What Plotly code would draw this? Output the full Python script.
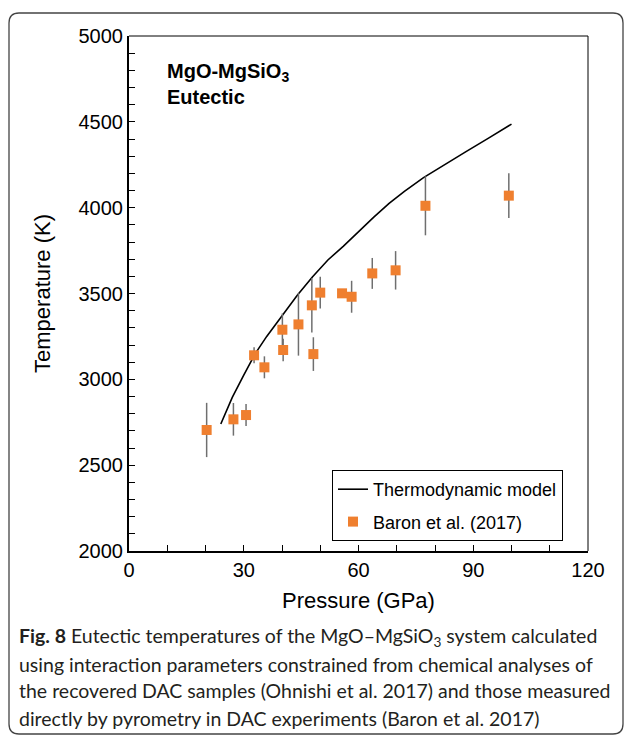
import plotly.graph_objects as go

# Eutectic temperatures measured by pyrometry (Baron et al. 2017)
baron_p = [20.3, 27.3, 30.6, 32.7, 35.4, 40.1, 40.3, 44.3, 47.8, 48.2, 50.0,
           55.7, 58.2, 63.6, 69.7, 77.5, 99.3]
baron_t = [2705, 2767, 2792, 3140, 3070, 3289, 3171, 3320, 3431, 3147, 3505,
           3501, 3481, 3617, 3635, 4011, 4070]
baron_err = [158, 95, 64, 47, 64, 95, 65, 182, 158, 98, 92,
             0, 93, 90, 112, 172, 130]

# Thermodynamic model curve
model_p = [24, 27, 30, 33, 36, 40, 44, 48, 52, 56, 60, 64, 68, 72, 77, 82, 88, 94, 100]
model_t = [2740, 2895, 3025, 3150, 3250, 3372, 3490, 3598, 3695, 3775, 3862,
           3945, 4025, 4095, 4175, 4245, 4325, 4405, 4487]

x_ticks = [0, 30, 60, 90, 120]
y_ticks = [2000, 2500, 3000, 3500, 4000, 4500, 5000]

caption_lines = [
    "<b>Fig. 8</b> Eutectic temperatures of the MgO–MgSiO<sub>3</sub> system calculated",
    "using interaction parameters constrained from chemical analyses of",
    "the recovered DAC samples (Ohnishi et al. 2017) and those measured",
    "directly by pyrometry in DAC experiments (Baron et al. 2017)",
]

W, H = 627, 736
ML, MR, MT, MB = 129, 39, 36, 185
PW, PH = W - ML - MR, H - MT - MB


def px(x):
    return (x - ML) / PW


def py(y):
    return (H - MB - y) / PH


fig = go.Figure()
fig.add_trace(go.Scatter(
    x=model_p, y=model_t, mode="lines", name="Thermodynamic model",
    legendgroup="model",
    line=dict(color="black", width=1.6),
))
fig.add_trace(go.Scatter(
    x=baron_p, y=baron_t, mode="markers", name="Baron et al. (2017)",
    legendgroup="baron",
    marker=dict(symbol="square", size=10, color="#EF7F2F"),
    error_y=dict(type="data", array=baron_err, visible=True,
                 color="#6f6f6f", thickness=1.5, width=0),
))

axis_font = dict(family="Liberation Sans, Arial, sans-serif", size=20, color="black")

fig.update_xaxes(
    range=[0, 120], tickvals=x_ticks, ticktext=[str(v) for v in x_ticks],
    ticks="inside", ticklen=6, tickwidth=1.2, tickcolor="black",
    minor=dict(dtick=10, ticks="inside", ticklen=6, tickwidth=1.2, tickcolor="black"),
    showline=True, linecolor="black", linewidth=2.2, showgrid=False, zeroline=False,
    tickfont=axis_font,
    title=dict(text="Pressure (GPa)", font=dict(family=axis_font["family"], size=22, color="black"),
               standoff=13),
)
fig.update_yaxes(
    range=[2000, 5000], tickvals=y_ticks, ticktext=[str(v) for v in y_ticks],
    ticks="inside", ticklen=6, tickwidth=1.2, tickcolor="black",
    minor=dict(dtick=100, ticks="inside", ticklen=6, tickwidth=1.2, tickcolor="black"),
    showline=True, linecolor="black", linewidth=2.2, showgrid=False, zeroline=False,
    tickfont=axis_font,
    title=dict(text="Temperature (K)", font=dict(family=axis_font["family"], size=22, color="black"),
               standoff=22),
)

shapes = [
    # thin frame on the top and right of the plotting area
    dict(type="line", xref="paper", yref="paper", x0=0, x1=1, y0=1, y1=1,
         line=dict(color="black", width=1)),
    dict(type="line", xref="paper", yref="paper", x0=1, x1=1, y0=0, y1=1,
         line=dict(color="black", width=1)),
]

# rounded outer border of the figure panel
bx0, bx1, by0, by1, r = 9, 623, 13, 734, 10
path = (f"M {px(bx0)},{py(by0 + r)} "
        f"Q {px(bx0)},{py(by0)} {px(bx0 + r)},{py(by0)} "
        f"L {px(bx1 - r)},{py(by0)} "
        f"Q {px(bx1)},{py(by0)} {px(bx1)},{py(by0 + r)} "
        f"L {px(bx1)},{py(by1 - r)} "
        f"Q {px(bx1)},{py(by1)} {px(bx1 - r)},{py(by1)} "
        f"L {px(bx0 + r)},{py(by1)} "
        f"Q {px(bx0)},{py(by1)} {px(bx0)},{py(by1 - r)} Z")
shapes.append(dict(type="path", path=path, xref="paper", yref="paper",
                   line=dict(color="#444444", width=1.3)))

annotations = [
    dict(text="<b>MgO-MgSiO<sub>3</sub><br>Eutectic</b>", xref="paper", yref="paper",
         x=px(165), y=py(58), xanchor="left", yanchor="top", align="left",
         showarrow=False, font=dict(family=axis_font["family"], size=20, color="black")),
]
for i, line in enumerate(caption_lines):
    annotations.append(dict(
        text=line, xref="paper", yref="paper", x=px(17), y=py(637 + 27 * i),
        xanchor="left", yanchor="middle", align="left", showarrow=False,
        font=dict(family="Lato, sans-serif", size=19.5, color="#231f20"),
    ))

fig.update_layout(
    width=W, height=H,
    margin=dict(l=ML, r=MR, t=MT, b=MB, pad=0),
    paper_bgcolor="white", plot_bgcolor="white",
    showlegend=True,
    legend=dict(x=px(332), y=py(470), xanchor="left", yanchor="top",
                bordercolor="black", borderwidth=1, bgcolor="white",
                font=dict(family=axis_font["family"], size=18, color="black"),
                tracegroupgap=6, itemwidth=30),
    shapes=shapes, annotations=annotations,
)

fig.write_html("out.html")
